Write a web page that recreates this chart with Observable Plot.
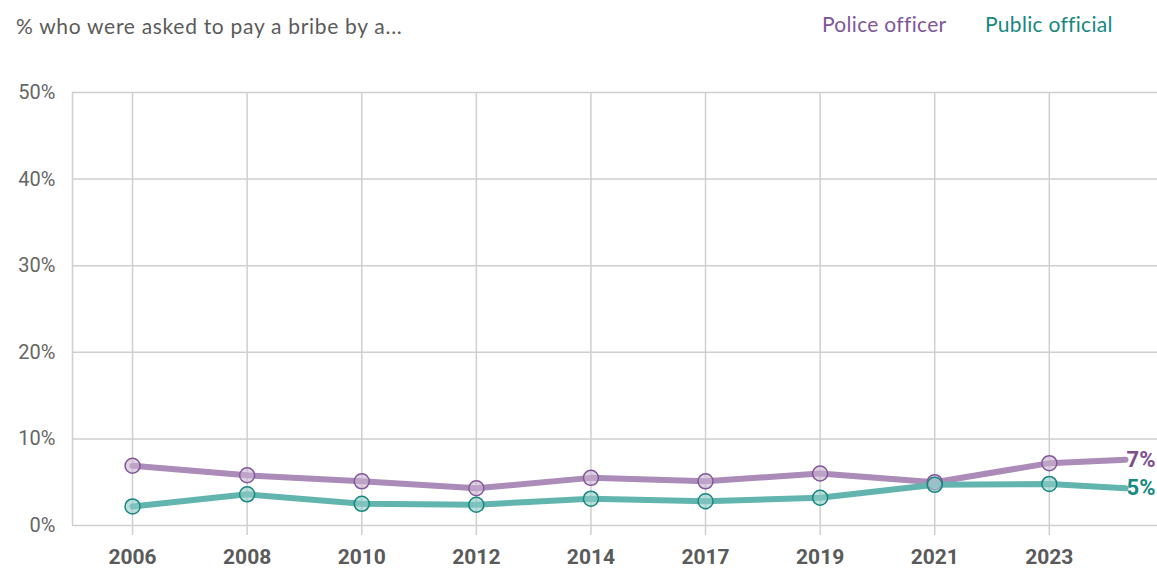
<!DOCTYPE html>
<html><head><meta charset="utf-8">
<script src="https://cdn.jsdelivr.net/npm/d3@7"></script>
<script src="https://cdn.jsdelivr.net/npm/@observablehq/plot@0.6"></script>
<style>
body{margin:0;background:#fff;}
#wrap{position:relative;width:1157px;height:569px;overflow:hidden;}
.title{position:absolute;left:16px;top:13px;font:21px Lato, sans-serif;letter-spacing:0.7px;color:#5b5b5b;white-space:nowrap;}
.leg{position:absolute;top:11px;font:21px Lato, sans-serif;letter-spacing:0.3px;white-space:nowrap;}
#chart{position:absolute;left:0;top:0;}
</style></head>
<body><div id="wrap">
<div id="chart"></div>
<div class="title">% who were asked to pay a bribe by a...</div>
<div class="leg" style="left:822px;color:#80569a">Police officer</div>
<div class="leg" style="left:985px;color:#17877f">Public official</div>
</div>
<script>
const years = ["2006","2008","2010","2012","2014","2017","2019","2021","2023"];
const police = [6.9, 5.8, 5.1, 4.3, 5.5, 5.1, 6.0, 5.0, 7.2];
const publicOfficial = [2.2, 3.6, 2.5, 2.4, 3.1, 2.8, 3.2, 4.7, 4.8];
const latestPolice = 7.6;
const latestPublic = 4.3;
const endLabels = ["7%", "5%"];
const yTicks = [0, 10, 20, 30, 40, 50];

// x positions in "survey-wave" units (equally spaced waves), latest estimate part-way after 2023
const latestPos = 8.665;
const xDomain = [-0.524, 8.944];

const idx = years.map((d, i) => i);
const policePts = years.map((y, i) => ({x: i, v: police[i]}));
const publicPts = years.map((y, i) => ({x: i, v: publicOfficial[i]}));
const policeLine = [...policePts, {x: latestPos, v: latestPolice}];
const publicLine = [...publicPts, {x: latestPos, v: latestPublic}];
const labels = [
  {x: latestPos, v: latestPolice, t: endLabels[0], c: "#7d4e8c"},
  {x: latestPos, v: latestPublic, t: endLabels[1], c: "#148a80"}
];

const grid = "#cfcfcf";
const chart = Plot.plot({
  width: 1157, height: 569,
  marginLeft: 72, marginRight: 0, marginTop: 92, marginBottom: 44,
  style: {background: "#fff", fontFamily: "Roboto, sans-serif", overflow: "visible"},
  x: {type: "linear", domain: xDomain},
  y: {domain: [0, 50]},
  marks: [
    Plot.ruleY(yTicks, {stroke: grid, strokeWidth: 1.5}),
    Plot.ruleX(idx, {y1: 0, y2: 50, stroke: grid, strokeWidth: 1.5}),
    Plot.ruleX([xDomain[0]], {y1: 0, y2: 50, stroke: grid, strokeWidth: 1.5}),
    Plot.axisY({ticks: yTicks, tickSize: 0, tickPadding: 17, tickFormat: d => d + "%", fontSize: 20, fill: "#666", label: null}),
    Plot.axisX({ticks: idx, tickFormat: i => years[i], tickSize: 10, tickPadding: 14, stroke: grid, strokeWidth: 1.5, fontSize: 21, fontWeight: "bold", fill: "#5a5a5a", label: null}),
    Plot.line(policeLine, {x: "x", y: "v", stroke: "#ab8bb8", strokeWidth: 6}),
    Plot.line(publicLine, {x: "x", y: "v", stroke: "#62b5af", strokeWidth: 6}),
    Plot.dot(policePts, {x: "x", y: "v", r: 7.5, fill: "#c9b5d1", fillOpacity: 0.6, stroke: "#82569a", strokeWidth: 1.5}),
    Plot.dot(publicPts, {x: "x", y: "v", r: 7.5, fill: "#8fcbc6", fillOpacity: 0.6, stroke: "#17877f", strokeWidth: 1.5}),
    Plot.text(labels, {x: "x", y: "v", text: "t", fill: "c", dx: 1, textAnchor: "start", fontSize: 22, fontWeight: "bold"})
  ]
});
document.getElementById("chart").appendChild(chart);
</script>
</body></html>
